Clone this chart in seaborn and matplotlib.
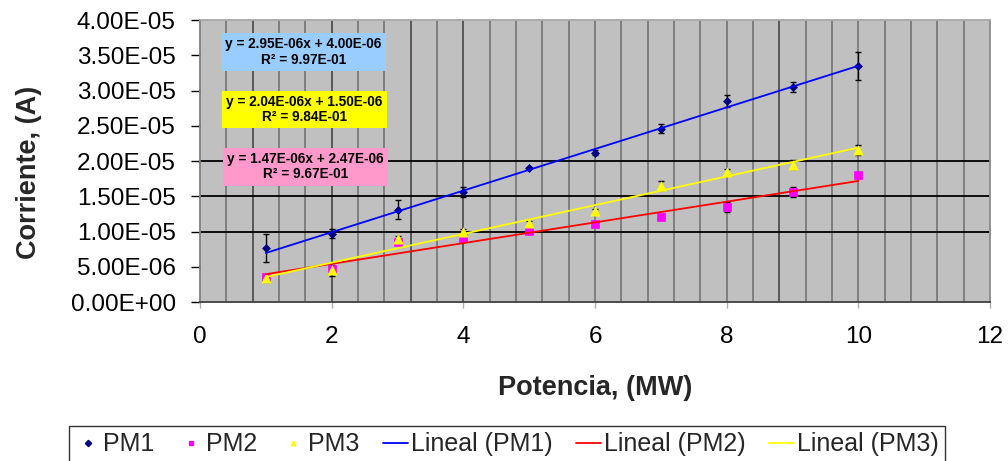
import numpy as np
import pandas as pd
import matplotlib
matplotlib.use("Agg")
import matplotlib.pyplot as plt
from matplotlib.lines import Line2D
import seaborn as sns

# ---------------- data ----------------
potencia = [1, 2, 3, 4, 5, 6, 7, 8, 9, 10]
pm1 = [7.7e-6, 9.7e-6, 13.1e-6, 15.6e-6, 19.0e-6, 21.2e-6, 24.6e-6, 28.5e-6, 30.5e-6, 33.5e-6]
pm1_err = [2.0e-6, 0.65e-6, 1.35e-6, 0.7e-6, 0.2e-6, 0.3e-6, 0.6e-6, 0.8e-6, 0.7e-6, 2.0e-6]
pm2 = [3.6e-6, 4.7e-6, 8.5e-6, 9.1e-6, 10.1e-6, 11.1e-6, 12.1e-6, 13.5e-6, 15.6e-6, 18.0e-6]
pm2_err = [0.3e-6, 0.3e-6, 0.3e-6, 0.3e-6, 0.2e-6, 0.2e-6, 0.2e-6, 0.7e-6, 0.7e-6, 0.3e-6]
pm3 = [3.4e-6, 4.5e-6, 8.95e-6, 9.9e-6, 11.2e-6, 12.9e-6, 16.5e-6, 18.5e-6, 19.5e-6, 21.5e-6]
pm3_err = [0.5e-6, 0.8e-6, 0.4e-6, 0.4e-6, 0.3e-6, 0.3e-6, 0.6e-6, 0.4e-6, 0.7e-6, 0.7e-6]

series_names = ["PM1", "PM2", "PM3"]
slopes = [2.95e-6, 1.47e-6, 2.04e-6]
intercepts = [4.00e-6, 2.47e-6, 1.50e-6]
fit_labels = ["y = 2.95E-06x + 4.00E-06\nR\u00b2 = 9.97E-01",
              "y = 1.47E-06x + 2.47E-06\nR\u00b2 = 9.67E-01",
              "y = 2.04E-06x + 1.50E-06\nR\u00b2 = 9.84E-01"]
trend_names = ["Lineal (PM1)", "Lineal (PM2)", "Lineal (PM3)"]

x_ticks = [0, 2, 4, 6, 8, 10, 12]
x_tick_labels = ["0", "2", "4", "6", "8", "10", "12"]
y_ticks = [0, 5e-6, 1e-5, 1.5e-5, 2e-5, 2.5e-5, 3e-5, 3.5e-5, 4e-5]
y_tick_labels = ["0.00E+00", "5.00E-06", "1.00E-05", "1.50E-05", "2.00E-05",
                 "2.50E-05", "3.00E-05", "3.50E-05", "4.00E-05"]

# ---------------- style ----------------
sns.set_theme(style="white")
plt.rcParams["font.family"] = ["Liberation Sans", "DejaVu Sans"]

W, H = 1008, 461
fig = plt.figure(figsize=(W / 100, H / 100), dpi=100)
ax = fig.add_axes([200 / W, 1 - 302 / H, 790 / W, 282 / H])
ax.set_facecolor("#C0C0C0")

# vertical gridlines (Excel minor grid)
for gx in np.arange(0.4, 12.0, 0.4):
    dark = any(abs(gx - d) < 1e-6 for d in (0.8, 2.0, 3.2, 4.0, 8.8))
    ax.axvline(gx, color="#505050" if dark else "#7a7a7a", lw=1.3, zorder=0.5)
for gy in (1e-5, 1.5e-5, 2e-5):
    ax.axhline(gy, color="#000000", lw=1.3, zorder=0.6)

df = pd.DataFrame({"x": potencia * 3,
                   "y": pm1 + pm2 + pm3,
                   "err": pm1_err + pm2_err + pm3_err,
                   "serie": sum([[n] * len(potencia) for n in series_names], [])})

colors = {"PM1": "#000080", "PM2": "#FF00FF", "PM3": "#FFFF00"}
markers = {"PM1": "D", "PM2": "s", "PM3": "^"}
sizes = {"PM1": 16, "PM2": 36, "PM3": 44}
trend_colors = ["#0000FF", "#FF0000", "#FFFF00"]

# error bars
for n in series_names:
    d = df[df.serie == n]
    ax.errorbar(d.x, d.y, yerr=d.err, fmt="none", ecolor="#000000",
                elinewidth=1.0, capsize=2.5, capthick=1.0, zorder=2)

# points
for n in series_names:
    d = df[df.serie == n]
    sns.scatterplot(data=d, x="x", y="y", ax=ax, color=colors[n], marker=markers[n],
                    s=sizes[n], edgecolor=colors[n], linewidth=0.5, zorder=3, legend=False)

# trend lines
xs = np.array([potencia[0], potencia[-1]])
for i, n in enumerate(series_names):
    tdf = pd.DataFrame({"x": xs, "y": slopes[i] * xs + intercepts[i]})
    sns.lineplot(data=tdf, x="x", y="y", ax=ax, color=trend_colors[i], lw=1.3, zorder=4)

# equation boxes
box_cols = ["#99CCFF", "#FF99CC", "#FFFF00"]
box_pos = [(1.57, 3.55e-5), (1.60, 1.92e-5), (1.59, 2.73e-5)]
for i in range(3):
    ax.text(box_pos[i][0], box_pos[i][1], fit_labels[i], ha="center", va="center",
            multialignment="center", fontsize=9.8, fontweight="bold", linespacing=1.15,
            color="black", zorder=6,
            bbox=dict(boxstyle="square,pad=0.3", fc=box_cols[i], ec="none"))

ax.set_xlim(0, 12)
ax.set_ylim(0, 4e-5)
ax.set_xticks(x_ticks)
ax.set_xticklabels(x_tick_labels)
ax.set_yticks(y_ticks)
ax.set_yticklabels(y_tick_labels)
ax.tick_params(axis="y", left=True, direction="out", length=6.5, width=1.0,
               color="black", pad=11, labelsize=17.5, labelcolor="black")
ax.tick_params(axis="x", bottom=True, direction="out", length=4.5, width=1.0,
               color="#b0b0b0", pad=13, labelsize=17.5, labelcolor="black")

for side, c in (("left", "#808080"), ("bottom", "#404040"), ("top", "#a8a8a8"), ("right", "#8a8a8a")):
    ax.spines[side].set_visible(True)
    ax.spines[side].set_color(c)
    ax.spines[side].set_linewidth(1.3)

ax.set_xlabel("Potencia, (MW)", fontsize=19.5, fontweight="bold")
ax.set_ylabel("Corriente, (A)", fontsize=19.5, fontweight="bold")
ax.xaxis.set_label_coords(0.5, -0.305)
ax.xaxis.label.set_va("center")
ax.yaxis.set_label_coords(-0.217, 0.46)
ax.yaxis.label.set_va("center")

# legend
handles = []
for n in series_names:
    handles.append(Line2D([], [], ls="none", marker=markers[n], color=colors[n],
                          markersize=3.2, label=n))
for i, n in enumerate(trend_names):
    handles.append(Line2D([], [], color=trend_colors[i], lw=1.3, label=n))
leg = fig.legend(handles=handles, loc="upper center", ncol=6,
                 bbox_to_anchor=(507 / W, 1 - 426 / H), frameon=True, fancybox=False,
                 fontsize=18, handlelength=1.0, handletextpad=0.1, columnspacing=0.95,
                 borderpad=0.25, borderaxespad=0)
leg.get_frame().set_edgecolor("#000000")
leg.get_frame().set_linewidth(1.0)

fig.savefig("out.png", dpi=100)
